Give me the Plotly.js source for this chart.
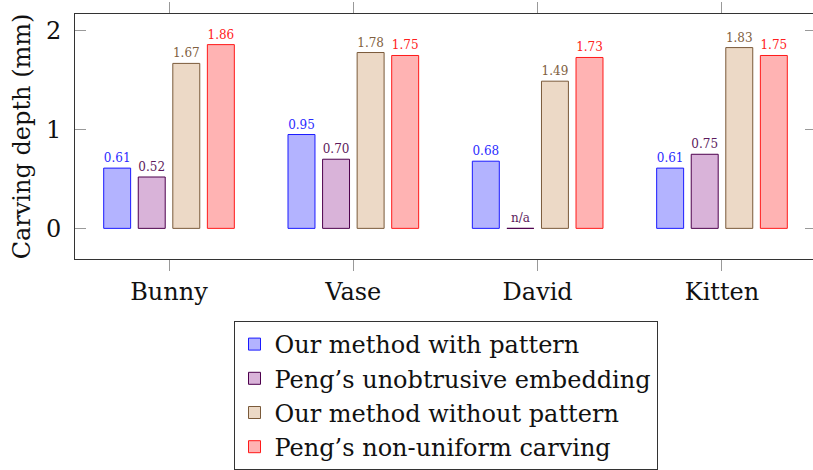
<!DOCTYPE html>
<html>
<head>
<meta charset="utf-8">
<script src="https://cdn.plot.ly/plotly-3.0.1.min.js"></script>
<style>
  html, body { margin: 0; padding: 0; overflow: hidden; background: #fff; }
  #chart { width: 820px; height: 470px; }
</style>
</head>
<body>
<div id="chart"></div>
<script>
const categories = ['Bunny', 'Vase', 'David', 'Kitten'];
const seriesNames = [
  'Our method with pattern',
  'Peng\u2019s unobtrusive embedding',
  'Our method without pattern',
  'Peng\u2019s non-uniform carving'
];
const ourWithPattern = [0.61, 0.95, 0.68, 0.61];
const pengUnobtrusive = [0.52, 0.70, 0, 0.75];
const ourWithoutPattern = [1.67, 1.78, 1.49, 1.83];
const pengNonUniform = [1.86, 1.75, 1.73, 1.75];
const pengUnobtrusiveLabels = ['0.52', '0.70', 'n/a', '0.75'];
const yTickValues = [0, 1, 2];

const fills = ['#b3b3ff', '#d9b3d9', '#ecd9c6', '#ffb3b3'];
const edges = ['#1a1aff', '#4d004d', '#7a5a3a', '#ff1a1a'];
const labelColors = ['#2a2aff', '#5c1a5c', '#806040', '#ff2020'];

const values = [ourWithPattern, pengUnobtrusive, ourWithoutPattern, pengNonUniform];
const fmt = v => v.toFixed(2);
const labels = [ourWithPattern.map(fmt), pengUnobtrusiveLabels, ourWithoutPattern.map(fmt), pengNonUniform.map(fmt)];

const FONT = '"DejaVu Serif", serif';

const traces = values.map((vals, i) => ({
  type: 'bar',
  name: seriesNames[i],
  x: categories,
  y: vals,
  text: labels[i],
  textposition: 'outside',
  cliponaxis: false,
  textfont: { family: FONT, size: 12, color: labelColors[i] },
  marker: { color: fills[i], line: { color: edges[i], width: 1 } },
  hoverinfo: 'none'
}));

// plot area: top 14px, bottom 259px of a 470px page (margin t=14, b=0 -> paper height 456)
const layout = {
  width: 820,
  height: 470,
  margin: { l: 75, r: 4, t: 14, b: 0 },
  paper_bgcolor: '#fff',
  plot_bgcolor: '#fff',
  barmode: 'group',
  bargap: 0.25,
  bargroupgap: 0.22,
  font: { family: FONT, size: 24, color: '#111' },
  showlegend: true,
  legend: {
    x: 0.5, xanchor: 'center',
    y: (470 - 321) / 456, yanchor: 'top',
    bgcolor: '#fff',
    bordercolor: '#333',
    borderwidth: 1,
    font: { family: FONT, size: 24, color: '#111' },
    tracegroupgap: 0,
    itemwidth: 30
  },
  xaxis: {
    type: 'category',
    range: [-0.51, 3.51],
    showline: true, linecolor: '#333', linewidth: 1,
    mirror: 'ticks',
    ticks: 'outside', ticklen: 11, tickcolor: '#999', tickwidth: 1,
    tickfont: { family: FONT, size: 24, color: '#111' },
    showgrid: false, zeroline: false,
    automargin: false
  },
  yaxis: {
    domain: [(470 - 259) / 456, 1],
    range: [-0.31, 2.17],
    tickvals: yTickValues,
    ticktext: yTickValues.map(String),
    showline: true, linecolor: '#333', linewidth: 1,
    mirror: 'ticks',
    ticks: 'inside', ticklen: 11, tickcolor: '#999', tickwidth: 1,
    ticklabelstandoff: 8,
    tickfont: { family: FONT, size: 24, color: '#111' },
    showgrid: false, zeroline: false,
    automargin: false,
    title: { text: 'Carving depth (mm)', font: { family: FONT, size: 24, color: '#111' }, standoff: 8 }
  }
};

Plotly.newPlot('chart', traces, layout, { displayModeBar: false, staticPlot: true });
</script>
</body>
</html>
